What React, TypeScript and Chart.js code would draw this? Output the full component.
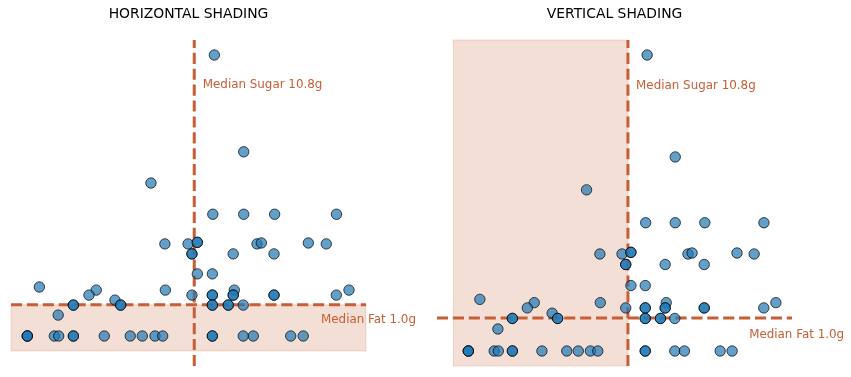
import React, { useEffect, useRef } from "react";
import { Chart, registerables } from "chart.js";

Chart.register(...registerables);

// Sugar (g) and fat (g) per product; repeated entries are overlapping points
const sugarGrams = [
  12.1, 14.0, 8.0, 12.0, 14.0, 16.0, 20.0,
  8.9, 10.4, 11.0, 11.0, 14.86, 15.14, 18.18, 19.34,
  10.65, 10.65, 13.32, 15.96,
  11.0, 11.97,
  0.78, 4.46, 3.99, 8.93, 10.65, 11.97, 11.97, 13.39, 13.32, 13.32, 15.96, 15.96, 19.99, 20.81,
  5.67, 6.04, 6.04, 2.98, 2.98, 11.97, 11.97, 13.0, 13.0, 13.97,
  2.0,
  0, 0, 0, 1.75, 2.03, 2.98, 2.98, 4.98, 6.66, 7.44, 8.26, 8.76, 11.97, 11.97, 13.97, 14.62, 17.04, 17.85,
];
const fatGrams = [
  9.0, 5.9, 4.9, 3.9, 3.9, 3.9, 3.9,
  2.95, 2.95, 3.0, 3.0, 2.95, 2.98, 2.98, 2.95,
  2.63, 2.63, 2.63, 2.63,
  1.99, 1.99,
  1.57, 1.47, 1.31, 1.47, 1.31, 1.31, 1.31, 1.47, 1.31, 1.31, 1.31, 1.31, 1.31, 1.47,
  1.15, 0.99, 0.99, 0.99, 0.99, 0.99, 0.99, 0.99, 0.99, 0.99,
  0.67,
  0, 0, 0, 0, 0, 0, 0, 0, 0, 0, 0, 0, 0, 0, 0, 0, 0, 0,
];

const medianSugar = 10.8;
const medianFat = 1.0;

const titles = ["HORIZONTAL SHADING", "VERTICAL SHADING"];
const sugarLabel = `Median Sugar ${medianSugar.toFixed(1)}g`;
const fatLabel = `Median Fat ${medianFat.toFixed(1)}g`;

// axis ranges of each panel
const xRanges = [[-1.054, 21.91], [-2.12, 21.9]];
const yRanges = [[-0.961, 9.481], [-0.456, 9.456]];
// shaded band extents
const hShadeFat = [-0.48, medianFat];
const vShadeSugar = [-1.02, medianSugar];
// label anchors
const sugarLabelPos = [11.35, 8.05];
const fatLabelPos = [19.0, 0.5];

const ACCENT = "rgb(199,94,53)";
const SHADE = "rgba(199,94,53,0.2)";
const FONT = "DejaVu Sans";

function makeChart(canvas: HTMLCanvasElement, panel: number, padLeft: number, padRight: number) {
  const [xmin, xmax] = xRanges[panel];
  const [ymin, ymax] = yRanges[panel];
  const points = sugarGrams.map((s, i) => ({ x: s, y: fatGrams[i] }));

  const decor = {
    id: "decor" + panel,
    beforeDatasetsDraw(chart: any) {
      const { ctx, scales } = chart;
      const xs = scales.x, ys = scales.y;
      ctx.save();
      let x0, x1, y0, y1;
      if (panel === 0) {
        x0 = xs.getPixelForValue(xmin); x1 = xs.getPixelForValue(xmax);
        y0 = ys.getPixelForValue(hShadeFat[1]); y1 = ys.getPixelForValue(hShadeFat[0]);
      } else {
        x0 = xs.getPixelForValue(vShadeSugar[0]); x1 = xs.getPixelForValue(vShadeSugar[1]);
        y0 = ys.getPixelForValue(ymax); y1 = ys.getPixelForValue(ymin);
      }
      ctx.fillStyle = SHADE;
      ctx.fillRect(x0, y0, x1 - x0, y1 - y0);
      ctx.strokeStyle = SHADE;
      ctx.lineWidth = 1;
      ctx.strokeRect(x0, y0, x1 - x0, y1 - y0);
      ctx.restore();
    },
    afterDatasetsDraw(chart: any) {
      const { ctx, scales, chartArea } = chart;
      const xs = scales.x, ys = scales.y;
      ctx.save();
      ctx.fillStyle = "#000";
      ctx.font = `13.9px "${FONT}"`;
      ctx.textAlign = "center";
      ctx.textBaseline = "alphabetic";
      ctx.fillText(titles[panel], (chartArea.left + chartArea.right) / 2, 18.3);
      ctx.fillStyle = ACCENT;
      ctx.font = `11.9px "${FONT}"`;
      ctx.textAlign = "left";
      ctx.textBaseline = "middle";
      ctx.fillText(sugarLabel, xs.getPixelForValue(sugarLabelPos[0]), ys.getPixelForValue(sugarLabelPos[1]));
      ctx.fillText(fatLabel, xs.getPixelForValue(fatLabelPos[0]), ys.getPixelForValue(fatLabelPos[1]));
      ctx.restore();
    },
  };

  const lineStyle = {
    type: "line" as const,
    showLine: true,
    borderColor: ACCENT,
    backgroundColor: ACCENT,
    borderWidth: 3,
    borderDash: [11.1, 4.8],
    borderCapStyle: "butt",
    pointRadius: 0,
    fill: false,
    clip: false,
    order: 2,
  };

  return new Chart(canvas, {
    type: "scatter",
    data: {
      datasets: [
        { ...lineStyle, data: [{ x: medianSugar, y: ymin }, { x: medianSugar, y: ymax }] } as any,
        { ...lineStyle, data: [{ x: xmin, y: medianFat }, { x: xmax, y: medianFat }] } as any,
        {
          type: "scatter",
          data: points,
          backgroundColor: "rgba(31,119,180,0.7)",
          borderColor: "rgba(0,0,0,0.7)",
          borderWidth: 1,
          pointRadius: 5.2,
          pointHoverRadius: 5.2,
          clip: false,
          order: 1,
        } as any,
      ],
    },
    options: {
      responsive: false,
      animation: false,
      devicePixelRatio: 1,
      layout: { padding: { left: padLeft, right: padRight, top: 40, bottom: 11 } },
      plugins: { legend: { display: false }, title: { display: false }, tooltip: { enabled: false } },
      events: [],
      scales: {
        x: { type: "linear", display: false, min: xmin, max: xmax },
        y: { type: "linear", display: false, min: ymin, max: ymax },
      },
    } as any,
    plugins: [decor],
  });
}

export default function App() {
  const leftRef = useRef<HTMLCanvasElement>(null);
  const rightRef = useRef<HTMLCanvasElement>(null);

  useEffect(() => {
    const c1 = makeChart(leftRef.current!, 0, 11, 59);
    const c2 = makeChart(rightRef.current!, 1, 12, 59);
    return () => {
      c1.destroy();
      c2.destroy();
    };
  }, []);

  return (
    <div style={{ position: "fixed", left: 0, top: 0, width: 851, height: 377, background: "#fff" }}>
      <canvas ref={leftRef} width={425} height={377} style={{ position: "absolute", left: 0, top: 0, width: 425, height: 377 }} />
      <canvas ref={rightRef} width={426} height={377} style={{ position: "absolute", left: 425, top: 0, width: 426, height: 377 }} />
    </div>
  );
}
